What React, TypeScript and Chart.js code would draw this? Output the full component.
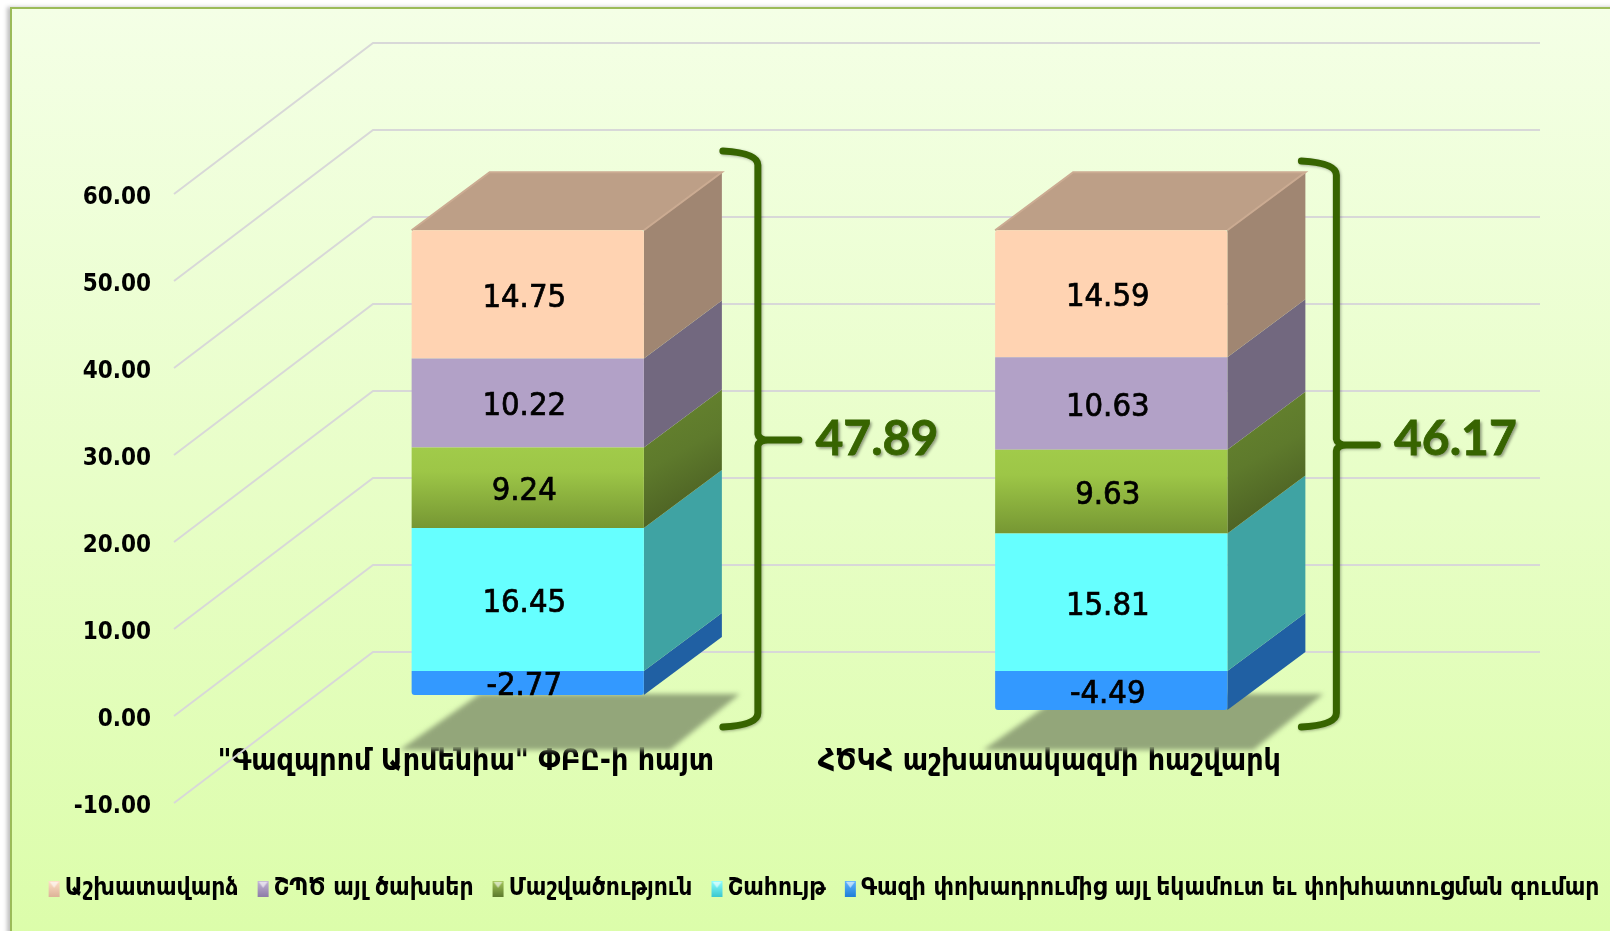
import React, { useEffect, useRef } from "react";
import { Chart, registerables } from "chart.js";

Chart.register(...registerables);

const categories = ['"Գազպրոմ Արմենիա" ՓԲԸ-ի հայտ', "ՀԾԿՀ աշխատակազմի հաշվարկ"];
const otherIncome = [-2.77, -4.49];
const profit = [16.45, 15.81];
const depreciation = [9.24, 9.63];
const otherCosts = [10.22, 10.63];
const wages = [14.75, 14.59];
const totals = ["47.89", "46.17"];
const seriesNames = [
  "Գազի փոխադրումից այլ եկամուտ եւ փոխհատուցման գումար",
  "Շահույթ",
  "Մաշվածություն",
  "ՇՊԾ այլ ծախսեր",
  "Աշխատավարձ",
];
const frontColors = ["#3399FF", "#66FFFF", "#8DB33E", "#B2A1C7", "#FFD3B2"];
const sideColors = ["#2060A3", "#3FA3A3", "#4F6B26", "#72687F", "#A08672"];
const swatchTop = ["#5FB4FF", "#8CFFFF", "#A5C75A", "#C4B6D6", "#FFE0C8"];
const swatchBottom = ["#1F7FD8", "#3CC8D0", "#5D7B2D", "#8E7DA8", "#DDB498"];

const CONDENSED = '"DejaVu Sans Condensed", "DejaVu Sans"';
const BAR_SHIFT_X = 62;
const BAR_SHIFT_Y = -45;
const BAR_DEPTH_X = 78;
const BAR_DEPTH_Y = -58;
const WALL_X = 199;
const WALL_Y = -151;
const LEGEND_SHIFT_X = 18;

function makeSwatch(i: number) {
  const c = document.createElement("canvas");
  c.width = 24;
  c.height = 16;
  const g = c.getContext("2d")!;
  const grad = g.createLinearGradient(0, 0, 0, 16);
  grad.addColorStop(0, swatchTop[i]);
  grad.addColorStop(1, swatchBottom[i]);
  g.fillStyle = grad;
  g.fillRect(11, 0, 11, 16);
  g.fillStyle = "rgba(255,255,255,0.6)";
  g.beginPath();
  g.moveTo(12, 1);
  g.lineTo(21, 1);
  g.lineTo(16.5, 7);
  g.closePath();
  g.fill();
  return c;
}

const scene3d = {
  id: "scene3d",
  afterLayout(chart: any) {
    if (chart.legend) {
      chart.legend.left += LEGEND_SHIFT_X;
      chart.legend.right += LEGEND_SHIFT_X;
    }
  },
  beforeDatasetsDraw(chart: any) {
    const { ctx, chartArea, scales } = chart;
    const y = scales.y;
    ctx.save();
    // side walls and back wall
    ctx.strokeStyle = "#D8D8D8";
    ctx.lineWidth = 2;
    y.ticks.forEach((t: any) => {
      const p = y.getPixelForValue(t.value);
      ctx.beginPath();
      ctx.moveTo(chartArea.left, p);
      ctx.lineTo(chartArea.left + WALL_X, p + WALL_Y);
      ctx.lineTo(chartArea.right + WALL_X, p + WALL_Y);
      ctx.stroke();
    });
    // floor shadows
    const first = chart.getDatasetMeta(0).data;
    const zero = y.getPixelForValue(0) - 44;
    first.forEach((el: any) => {
      const l = el.x - el.width / 2 + BAR_SHIFT_X;
      const r = el.x + el.width / 2 + BAR_SHIFT_X;
      ctx.save();
      ctx.filter = "blur(2.5px)";
      ctx.fillStyle = "#93A67A";
      ctx.beginPath();
      ctx.moveTo(l + 68, zero + 22);
      ctx.lineTo(r + 96, zero + 22);
      ctx.lineTo(r + 26, zero + 78);
      ctx.lineTo(l - 12, zero + 78);
      ctx.closePath();
      ctx.fill();
      ctx.restore();
    });
    // side and top faces
    ctx.translate(BAR_SHIFT_X, BAR_SHIFT_Y);
    chart.data.datasets.forEach((ds: any, di: number) => {
      chart.getDatasetMeta(di).data.forEach((el: any) => {
        const r = el.x + el.width / 2;
        const t = Math.min(el.y, el.base);
        const b = Math.max(el.y, el.base);
        let fill: any = sideColors[di];
        if (di === 2) {
          const g = ctx.createLinearGradient(r, t + BAR_DEPTH_Y, r + BAR_DEPTH_X, b);
          g.addColorStop(0, "#68862F");
          g.addColorStop(0.45, "#5E7A2C");
          g.addColorStop(1, "#43541F");
          fill = g;
        }
        ctx.fillStyle = fill;
        ctx.beginPath();
        ctx.moveTo(r, t);
        ctx.lineTo(r + BAR_DEPTH_X, t + BAR_DEPTH_Y);
        ctx.lineTo(r + BAR_DEPTH_X, b + BAR_DEPTH_Y);
        ctx.lineTo(r, b);
        ctx.closePath();
        ctx.fill();
      });
    });
    const topIndex = chart.data.datasets.length - 1;
    chart.getDatasetMeta(topIndex).data.forEach((el: any) => {
      const l = el.x - el.width / 2;
      const r = el.x + el.width / 2;
      ctx.fillStyle = "#BD9F87";
      ctx.beginPath();
      ctx.moveTo(l, el.y);
      ctx.lineTo(l + BAR_DEPTH_X, el.y + BAR_DEPTH_Y);
      ctx.lineTo(r + BAR_DEPTH_X, el.y + BAR_DEPTH_Y);
      ctx.lineTo(r, el.y);
      ctx.closePath();
      ctx.fill();
      ctx.strokeStyle = "#CBAB92";
      ctx.lineWidth = 2;
      ctx.beginPath();
      ctx.moveTo(l, el.y);
      ctx.lineTo(l + BAR_DEPTH_X, el.y + BAR_DEPTH_Y);
      ctx.lineTo(r + BAR_DEPTH_X, el.y + BAR_DEPTH_Y);
      ctx.lineTo(r, el.y);
      ctx.stroke();
    });
    ctx.restore();
    // bars are drawn by the library on the shifted plane
    ctx.save();
    ctx.translate(BAR_SHIFT_X, BAR_SHIFT_Y);
  },
  afterDatasetsDraw(chart: any) {
    const { ctx } = chart;
    ctx.restore();
    ctx.save();
    // value labels
    ctx.fillStyle = "#000";
    ctx.strokeStyle = "#000";
    ctx.lineWidth = 0.7;
    ctx.font = `32.5px ${CONDENSED}`;
    ctx.textAlign = "center";
    ctx.textBaseline = "middle";
    chart.data.datasets.forEach((ds: any, di: number) => {
      chart.getDatasetMeta(di).data.forEach((el: any, i: number) => {
        const cy = (el.y + el.base) / 2 + BAR_SHIFT_Y + 4;
        const cx = el.x + BAR_SHIFT_X - 3.5;
        const s = ds.data[i].toFixed(2);
        ctx.fillText(s, cx, cy);
        ctx.strokeText(s, cx, cy);
      });
    });
    // braces and totals
    const top = chart.getDatasetMeta(4).data;
    top.forEach((el: any, i: number) => {
      const xL = el.x + el.width / 2 + BAR_SHIFT_X + BAR_DEPTH_X - 2 - (i === 0 ? 0 : 5);
      const xV = xL + 38;
      const xS = xL + 3;
      const yT = i === 0 ? 151 : 161;
      const yB = 727;
      const yM = i === 0 ? 440 : 445;
      const xTip = xV + 41;
      ctx.save();
      ctx.shadowColor = "rgba(0,0,0,0.3)";
      ctx.shadowBlur = 3;
      ctx.shadowOffsetX = 1;
      ctx.shadowOffsetY = 1;
      ctx.strokeStyle = "#376400";
      ctx.lineWidth = 7;
      ctx.lineCap = "round";
      ctx.beginPath();
      ctx.moveTo(xS, yT);
      ctx.quadraticCurveTo(xV, yT + 2, xV, yT + 14);
      ctx.lineTo(xV, yM - 6);
      ctx.quadraticCurveTo(xV + 1, yM, xV + 10, yM);
      ctx.lineTo(xTip, yM);
      ctx.moveTo(xV + 10, yM);
      ctx.quadraticCurveTo(xV + 1, yM, xV, yM + 6);
      ctx.lineTo(xV, yB - 14);
      ctx.quadraticCurveTo(xV, yB - 2, xS, yB);
      ctx.stroke();
      ctx.restore();
      ctx.save();
      ctx.shadowColor = "rgba(0,0,0,0.4)";
      ctx.shadowBlur = 3;
      ctx.shadowOffsetX = 2;
      ctx.shadowOffsetY = 2;
      ctx.fillStyle = "#376400";
      ctx.strokeStyle = "#376400";
      ctx.lineWidth = 0.8;
      ctx.font = "bold 48px Lato, sans-serif";
      ctx.textAlign = "center";
      ctx.textBaseline = "middle";
      ctx.fillText(totals[i], xTip + 78, 440);
      ctx.shadowColor = "transparent";
      ctx.strokeText(totals[i], xTip + 78, 440);
      ctx.restore();
    });
    ctx.restore();
  },
};

export default function App() {
  const ref = useRef<HTMLCanvasElement | null>(null);
  useEffect(() => {
    const series = [otherIncome, profit, depreciation, otherCosts, wages];
    const chart = new Chart(ref.current!, {
      type: "bar",
      data: {
        labels: categories,
        datasets: series.map((data, i) => ({
          label: seriesNames[i],
          data,
          stack: "s",
          backgroundColor: (c: any) => {
            if (i !== 2 || !c.chart.scales.y) return frontColors[i];
            const idx = c.dataIndex ?? 0;
            const y = c.chart.scales.y;
            const base = profit[idx];
            const y0 = y.getPixelForValue(base + depreciation[idx]);
            const y1 = y.getPixelForValue(base);
            if (!Number.isFinite(y0) || !Number.isFinite(y1)) return frontColors[i];
            const g = c.chart.ctx.createLinearGradient(0, y0, 0, y1);
            g.addColorStop(0, "#A1CB4A");
            g.addColorStop(0.3, "#9DC647");
            g.addColorStop(1, "#769733");
            return g;
          },
          barPercentage: 0.398,
          categoryPercentage: 1,
          borderWidth: 0,
          borderRadius: 3,
        })),
      },
      options: {
        responsive: false,
        animation: false,
        layout: { padding: { left: 0, right: 0, top: 194, bottom: 20 } },
        plugins: {
          tooltip: { enabled: false },
          legend: {
            position: "bottom",
            reverse: true,
            labels: {
              usePointStyle: true,
              pointStyleWidth: 6,
              boxHeight: 16,
              padding: 17,
              color: "#000",
              font: { family: CONDENSED, size: 24.4, weight: "bold" },
              generateLabels: (ch: any) =>
                Chart.defaults.plugins.legend.labels
                  .generateLabels(ch)
                  .map((item: any) => ({ ...item, pointStyle: makeSwatch(item.datasetIndex) })),
            },
          },
        },
        scales: {
          x: {
            stacked: true,
            position: { y: 0 } as any,
            grid: { display: false, drawTicks: false },
            border: { display: false },
            ticks: {
              padding: 28,
              color: "#000",
              maxRotation: 0,
              autoSkip: false,
              font: { family: CONDENSED, size: 30, weight: "bold" },
            },
          },
          xSpacer: {
            type: "linear",
            axis: "x",
            position: "bottom",
            min: 0,
            max: 1,
            grid: { display: false, drawTicks: false },
            border: { display: false },
            ticks: { display: false },
            afterFit: (s: any) => {
              s.height = 931 - 803 - 20 - (s.chart.legend?.height ?? 40);
            },
          },
          y: {
            stacked: true,
            min: -10,
            max: 60,
            position: "left",
            grid: { display: false, drawTicks: false },
            border: { display: false },
            ticks: {
              stepSize: 10,
              padding: 23,
              labelOffset: 4,
              color: "#000",
              font: { family: CONDENSED, size: 24, weight: "bold" },
              callback: (v: any) => Number(v).toFixed(2),
            },
            afterFit: (s: any) => {
              s.width = 174;
            },
          },
          ySpacer: {
            type: "linear",
            axis: "y",
            position: "right",
            min: 0,
            max: 1,
            grid: { display: false, drawTicks: false },
            border: { display: false },
            ticks: { display: false },
            afterFit: (s: any) => {
              s.width = 269;
            },
          },
        },
      } as any,
      plugins: [scene3d],
    });
    return () => chart.destroy();
  }, []);
  return (
    <div style={{ position: "fixed", inset: 0, overflow: "hidden", background: "#fff" }}>
      <div
        style={{
          position: "absolute",
          left: 10,
          top: 7,
          width: 1640,
          height: 960,
          boxSizing: "border-box",
          border: "2px solid #9BBB59",
          boxShadow: "-3px 0 4px rgba(0,0,0,0.25)",
          background: "linear-gradient(180deg, #F4FFE6 0%, #DBFDA8 100%)",
        }}
      />
      <canvas
        ref={ref}
        width={1610}
        height={931}
        style={{ position: "absolute", left: 0, top: 0, width: 1610, height: 931 }}
      />
    </div>
  );
}
